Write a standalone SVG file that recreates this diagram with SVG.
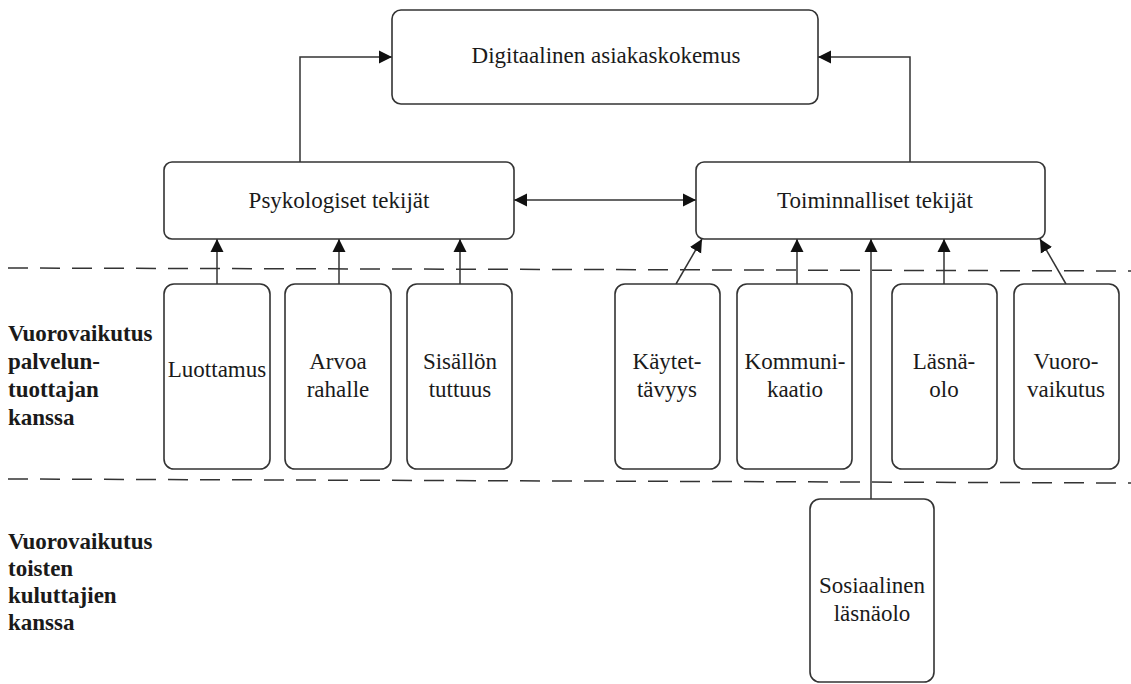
<svg xmlns="http://www.w3.org/2000/svg" width="1131" height="684" viewBox="0 0 1131 684">
<style>
.nodebox{fill:#fff;stroke:#333;stroke-width:1.6}
.nodelabel{font-family:'Liberation Serif','Times New Roman',serif;font-size:23px;fill:#1a1a1a;text-anchor:middle}
.lanelabel{font-family:'Liberation Serif','Times New Roman',serif;font-size:23px;font-weight:bold;fill:#1a1a1a}
.conn{fill:none;stroke:#333;stroke-width:1.5}
.divider{fill:none;stroke:#333;stroke-width:1.5;stroke-dasharray:20 12}
</style>
<defs>
<marker id="ah" markerUnits="userSpaceOnUse" markerWidth="14" markerHeight="14" viewBox="0 0 14 14" refX="13" refY="7" orient="auto-start-reverse">
<path d="M0,0.5 L13,7 L0,13.5 z" fill="#111"/>
</marker>
</defs>
<rect width="1131" height="684" fill="#fff"/>
<g id="lanes">
<line class="divider" x1="8" y1="268" x2="1131" y2="271"/>
<line class="divider" x1="8" y1="479" x2="1131" y2="483"/>
<text class="lanelabel" x="8" y="341">Vuorovaikutus</text>
<text class="lanelabel" x="8" y="369">palvelun-</text>
<text class="lanelabel" x="8" y="397">tuottajan</text>
<text class="lanelabel" x="8" y="425">kanssa</text>
<text class="lanelabel" x="8" y="549">Vuorovaikutus</text>
<text class="lanelabel" x="8" y="576">toisten</text>
<text class="lanelabel" x="8" y="603">kuluttajien</text>
<text class="lanelabel" x="8" y="630">kanssa</text>
</g>
<g id="connectors">
<path class="conn" d="M300,162 V57 H392" marker-end="url(#ah)"/>
<path class="conn" d="M910,162 V57 H818" marker-end="url(#ah)"/>
<path class="conn" d="M514,200 H696" marker-start="url(#ah)" marker-end="url(#ah)"/>
<path class="conn" d="M217,284 V239" marker-end="url(#ah)"/>
<path class="conn" d="M339,284 V239" marker-end="url(#ah)"/>
<path class="conn" d="M460,284 V239" marker-end="url(#ah)"/>
<path class="conn" d="M676,284 L702,239" marker-end="url(#ah)"/>
<path class="conn" d="M797,284 V239" marker-end="url(#ah)"/>
<path class="conn" d="M871,499 V239" marker-end="url(#ah)"/>
<path class="conn" d="M944,284 V239" marker-end="url(#ah)"/>
<path class="conn" d="M1066,284 L1040,239" marker-end="url(#ah)"/>
</g>
<g id="digitaalinen">
<rect class="nodebox" x="392" y="10" width="426" height="94" rx="9"/>
<text class="nodelabel" x="606" y="63">Digitaalinen asiakaskokemus</text>
</g>
<g id="psykologiset">
<rect class="nodebox" x="164" y="162" width="350" height="77" rx="8"/>
<text class="nodelabel" x="339" y="208">Psykologiset tekijät</text>
</g>
<g id="toiminnalliset">
<rect class="nodebox" x="696" y="162" width="349" height="77" rx="8"/>
<text class="nodelabel" x="875" y="208">Toiminnalliset tekijät</text>
</g>
<g id="luottamus">
<rect class="nodebox" x="164" y="284" width="106" height="185" rx="10"/>
<text class="nodelabel" x="217" y="377">Luottamus</text>
</g>
<g id="arvoa">
<rect class="nodebox" x="285" y="284" width="106" height="185" rx="10"/>
<text class="nodelabel" x="338" y="369">Arvoa</text>
<text class="nodelabel" x="338" y="397">rahalle</text>
</g>
<g id="sisallon">
<rect class="nodebox" x="407" y="284" width="105" height="185" rx="10"/>
<text class="nodelabel" x="460" y="369">Sisällön</text>
<text class="nodelabel" x="460" y="397">tuttuus</text>
</g>
<g id="kaytettavyys">
<rect class="nodebox" x="615" y="284" width="105" height="185" rx="10"/>
<text class="nodelabel" x="667" y="369">Käytet-</text>
<text class="nodelabel" x="667" y="397">tävyys</text>
</g>
<g id="kommunikaatio">
<rect class="nodebox" x="737" y="284" width="115" height="185" rx="10"/>
<text class="nodelabel" x="795" y="369">Kommuni-</text>
<text class="nodelabel" x="795" y="397">kaatio</text>
</g>
<g id="lasnaolo">
<rect class="nodebox" x="892" y="284" width="105" height="185" rx="10"/>
<text class="nodelabel" x="944" y="369">Läsnä-</text>
<text class="nodelabel" x="944" y="397">olo</text>
</g>
<g id="vuorovaikutus">
<rect class="nodebox" x="1014" y="284" width="105" height="185" rx="10"/>
<text class="nodelabel" x="1066" y="369">Vuoro-</text>
<text class="nodelabel" x="1066" y="397">vaikutus</text>
</g>
<g id="sosiaalinen">
<rect class="nodebox" x="810" y="499" width="124" height="183" rx="10"/>
<text class="nodelabel" x="872" y="593">Sosiaalinen</text>
<text class="nodelabel" x="872" y="621">läsnäolo</text>
</g>
</svg>
